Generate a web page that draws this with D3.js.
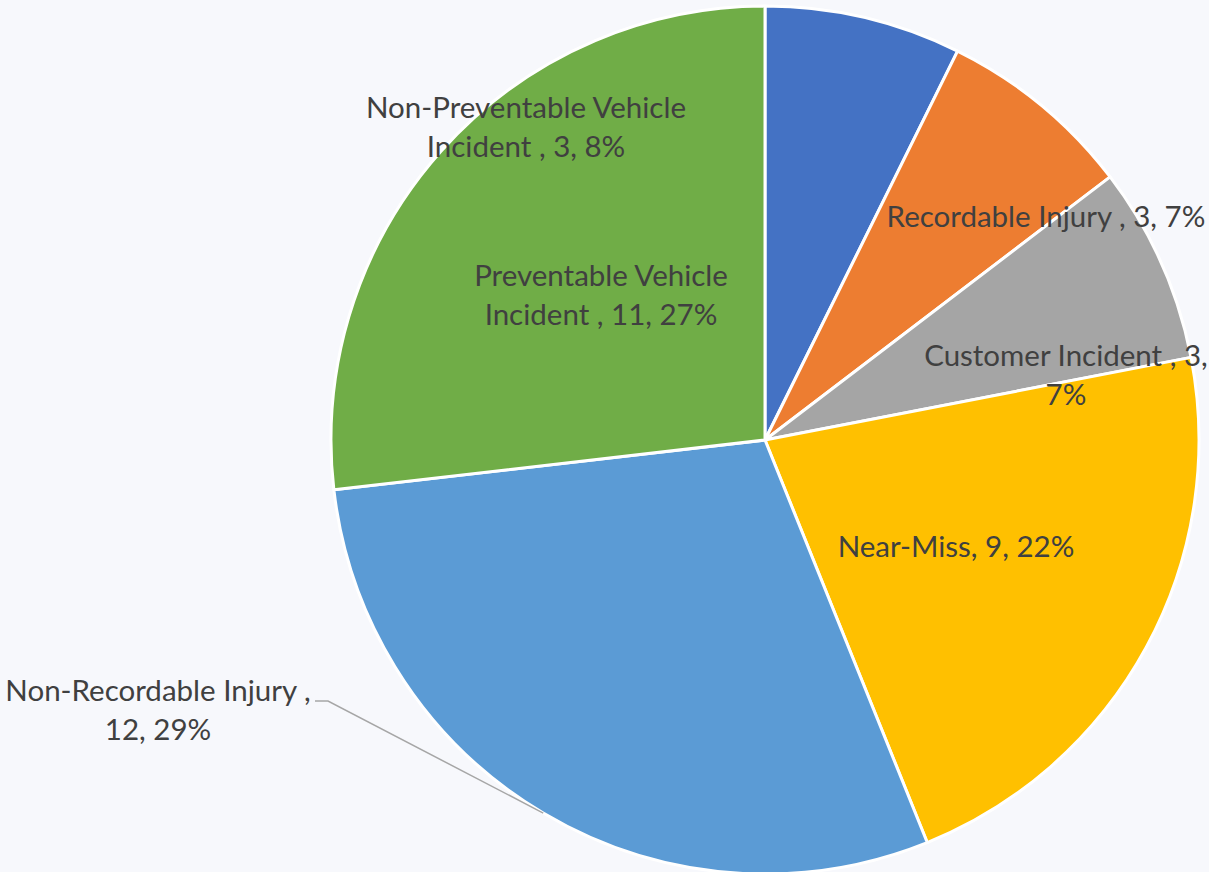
<!DOCTYPE html>
<html>
<head>
<meta charset="utf-8">
<script src="https://cdn.jsdelivr.net/npm/d3@7"></script>
<style>
 html, body { margin:0; padding:0; background:#f7f8fc; }
 svg { display:block; }
</style>
</head>
<body>
<script>
 // slices, clockwise from 12 o'clock
 var categories = ['Non-Preventable Vehicle Incident', 'Recordable Injury', 'Customer Incident',
                   'Near-Miss', 'Non-Recordable Injury', 'Preventable Vehicle Incident'];
 var values = [3, 3, 3, 9, 12, 11];
 var pctLabels = ['8%', '7%', '7%', '22%', '29%', '27%'];
 var colors = ['#4472c4', '#ed7d31', '#a5a5a5', '#ffc000', '#5b9bd5', '#70ad47'];

 // label text lines (Excel wraps them like this)
 var labelLines = [
   ['Non-Preventable Vehicle', 'Incident , 3, 8%'],
   ['Recordable Injury , 3, 7%'],
   ['Customer Incident , 3,', '7%'],
   ['Near-Miss, 9, 22%'],
   ['Non-Recordable Injury ,', '12, 29%'],
   ['Preventable Vehicle', 'Incident , 11, 27%']
 ];
 // where the labels were dragged to (centre x, first baseline y)
 var labelPos = [[526, 118], [1046, 227], [1066, 366], [956, 557], [158, 701], [601, 286]];

 var width = 1209, height = 872;
 var cx = 765, cy = 440, r = 434;

 var svg = d3.select('body').append('svg')
     .attr('width', width)
     .attr('height', height);

 var g = svg.append('g').attr('transform', 'translate(' + cx + ',' + cy + ')');

 var pie = d3.pie().sort(null).value(function(d) { return d; });
 var arc = d3.arc().innerRadius(0).outerRadius(r);
 var arcs = pie(values);

 g.selectAll('path.slice')
   .data(arcs)
   .enter()
   .append('path')
   .attr('class', 'slice')
   .attr('d', arc)
   .attr('fill', function(d, i) { return colors[i]; })
   .attr('stroke', '#ffffff')
   .attr('stroke-width', 3)
   .attr('stroke-linejoin', 'round');

 // leader line for the label that sits outside the pie
 var li = 4;
 var a = arcs[li];
 var mid = (a.startAngle + a.endAngle) / 2;
 var edge = [cx + r * Math.sin(mid), cy - r * Math.cos(mid)];
 svg.append('polyline')
    .attr('points', [[labelPos[li][0] + 157, labelPos[li][1]], [labelPos[li][0] + 170, labelPos[li][1]], edge].join(' '))
    .attr('fill', 'none')
    .attr('stroke', '#a6a6a6')
    .attr('stroke-width', 1.5);

 var labels = svg.selectAll('text.lbl')
   .data(labelLines)
   .enter()
   .append('text')
   .attr('class', 'lbl')
   .attr('text-anchor', 'middle')
   .attr('font-family', 'Lato, "Open Sans", sans-serif')
   .attr('font-size', '29.5px')
   .attr('fill', '#404040');

 labels.each(function(lines, i) {
   var t = d3.select(this);
   lines.forEach(function(s, k) {
     t.append('tspan')
      .attr('x', labelPos[i][0])
      .attr('y', labelPos[i][1] + k * 39)
      .text(s);
   });
 });
</script>
</body>
</html>
